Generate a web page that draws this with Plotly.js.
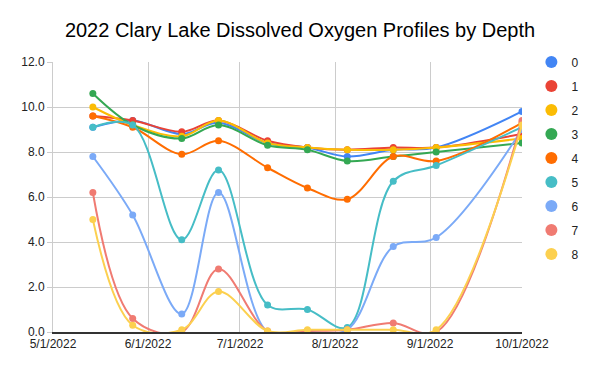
<!DOCTYPE html>
<html>
<head>
<meta charset="utf-8">
<script src="https://cdn.plot.ly/plotly-3.0.1.min.js"></script>
<style>html,body{margin:0;padding:0;background:#fff;}#chart{width:600px;height:371px;}</style>
</head>
<body>
<div id="chart"></div>
<script>
const dates = ['2022-05-14','2022-05-27','2022-06-12','2022-06-24','2022-07-10','2022-07-23','2022-08-05','2022-08-20','2022-09-03','2022-10-01'];
const depthNames = ['0','1','2','3','4','5','6','7','8'];
const colors = ['#4285F4','#EA4335','#FBBC04','#34A853','#FF6D01','#46BDC6','#7BAAF7','#F07B72','#FCD04F'];
const depth0 = [9.1, 9.4, 8.8, 9.3, 8.4, 8.2, 7.8, 8.1, 8.2, 9.8];
const depth1 = [9.6, 9.4, 8.9, 9.4, 8.5, 8.2, 8.1, 8.2, 8.2, 8.8];
const depth2 = [10.0, 9.2, 8.7, 9.4, 8.4, 8.2, 8.1, 8.1, 8.2, 8.6];
const depth3 = [10.6, 9.2, 8.6, 9.2, 8.3, 8.1, 7.6, 7.8, 8.0, 8.4];
const depth4 = [9.6, 9.1, 7.9, 8.5, 7.3, 6.4, 5.9, 7.8, 7.6, 9.3];
const depth5 = [9.1, 9.2, 4.1, 7.2, 1.2, 1.0, 0.2, 6.7, 7.4, 9.1];
const depth6 = [7.8, 5.2, 0.8, 6.2, 0.0, 0.0, 0.1, 3.8, 4.2, 9.0];
const depth7 = [6.2, 0.6, 0.0, 2.8, 0.05, 0.05, 0.1, 0.4, 0.0, 9.4];
const depth8 = [5.0, 0.3, 0.1, 1.8, 0.05, 0.1, 0.1, 0.1, 0.1, 9.2];
const series = [depth0, depth1, depth2, depth3, depth4, depth5, depth6, depth7, depth8];

const traces = [];
series.forEach((vals, i) => {
  traces.push({
    x: dates, y: vals, type: 'scatter', mode: 'lines+markers',
    line: {color: colors[i], width: 2, shape: 'spline', smoothing: 1},
    marker: {color: colors[i], size: 7},
    showlegend: false, hoverinfo: 'skip', cliponaxis: true
  });
});
series.forEach((vals, i) => {
  traces.push({
    x: [null], y: [null], type: 'scatter', mode: 'markers',
    name: depthNames[i], legendgroup: 'g' + i,
    marker: {color: colors[i], size: 12}, showlegend: true
  });
});

const layout = {
  width: 600, height: 371,
  margin: {l: 53, r: 78, t: 62, b: 39, pad: 0},
  paper_bgcolor: '#fff', plot_bgcolor: '#fff',
  font: {family: 'Liberation Sans, Arial, sans-serif', size: 12, color: '#222'},
  title: {text: '2022 Clary Lake Dissolved Oxygen Profiles by Depth', x: 0.5, xref: 'container', xanchor: 'center', y: 0.918, yanchor: 'middle',
          font: {family: 'Liberation Sans, Arial, sans-serif', size: 20, color: '#000'}},
  xaxis: {
    type: 'date', range: ['2022-05-01', '2022-10-01'],
    tickvals: ['2022-05-01','2022-06-01','2022-07-01','2022-08-01','2022-09-01','2022-10-01'],
    tickformat: '%-m/%-d/%Y', showgrid: true, gridcolor: '#cccccc', gridwidth: 1,
    showline: true, linecolor: '#333333', linewidth: 1.5, ticks: '', zeroline: false,
    tickfont: {size: 12, color: '#222'}
  },
  yaxis: {
    range: [0, 12], dtick: 2, tick0: 0, tickformat: '.1f',
    showgrid: true, gridcolor: '#cccccc', gridwidth: 1,
    showline: true, linecolor: '#cccccc', linewidth: 1, zeroline: false,
    ticks: 'outside', ticklen: 5, tickcolor: '#cccccc',
    tickfont: {size: 12, color: '#222'}
  },
  legend: {x: 1.02, xanchor: 'left', y: 1.054, yanchor: 'top', traceorder: 'grouped', tracegroupgap: 5,
           font: {size: 12, color: '#222'}, itemwidth: 30, bgcolor: 'rgba(0,0,0,0)', maxheight: 1},
  showlegend: true
};
Plotly.newPlot('chart', traces, layout, {displayModeBar: false, staticPlot: true});
</script>
</body>
</html>
